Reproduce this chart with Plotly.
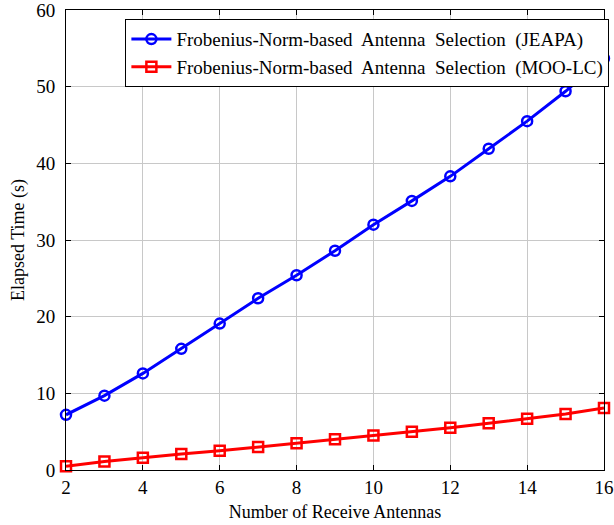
import plotly.graph_objects as go

antennas = [2, 3, 4, 5, 6, 7, 8, 9, 10, 11, 12, 13, 14, 15, 16]
jeapa = [7.2, 9.7, 12.6, 15.8, 19.1, 22.4, 25.4, 28.6, 32.0, 35.1, 38.3, 41.9, 45.5, 49.4, 53.7]
moolc = [0.5, 1.1, 1.6, 2.1, 2.5, 3.0, 3.5, 4.0, 4.5, 5.0, 5.5, 6.1, 6.7, 7.3, 8.1]
x_ticks = [2, 4, 6, 8, 10, 12, 14, 16]
y_ticks = [0, 10, 20, 30, 40, 50, 60]
names = ["Frobenius-Norm-based Antenna Selection (JEAPA)",
         "Frobenius-Norm-based Antenna Selection (MOO-LC)"]

FONT = "Liberation Serif, Times New Roman, serif"


def wide(s):
    return s.replace(" ", "\u00a0 ")


fig = go.Figure()
fig.add_trace(go.Scatter(
    x=antennas, y=jeapa, mode="lines+markers",
    name=wide(names[0]),
    line=dict(color="#0000ff", width=3),
    marker=dict(symbol="circle-open", size=10, color="#0000ff", line=dict(width=2.5)),
    cliponaxis=False,
))
fig.add_trace(go.Scatter(
    x=antennas, y=moolc, mode="lines+markers",
    name=wide(names[1]),
    line=dict(color="#ff0000", width=3),
    marker=dict(symbol="square-open", size=10, color="#ff0000", line=dict(width=2.5)),
    cliponaxis=False,
))

axis_common = dict(
    showline=True, linecolor="black", linewidth=1, mirror="allticks",
    ticks="inside", ticklen=5, tickcolor="black",
    showgrid=True, gridcolor="#c8c8c8", gridwidth=1,
    zeroline=False, automargin=False, ticklabeloverflow="allow",
    tickfont=dict(family=FONT, size=19, color="black"),
)

fig.update_layout(
    width=614, height=525,
    margin=dict(l=66, r=10, t=10, b=55, autoexpand=False),
    plot_bgcolor="white", paper_bgcolor="white",
    font=dict(family=FONT, color="black"),
    xaxis=dict(range=[2, 16], tickvals=x_ticks,
               title=dict(text="Number of Receive Antennas", font=dict(family=FONT, size=18), standoff=8),
               **axis_common),
    yaxis=dict(range=[0, 60], tickvals=y_ticks, ticklabelstandoff=6,
               title=dict(text="Elapsed Time (s)", font=dict(family=FONT, size=18), standoff=6),
               **axis_common),
    legend=dict(x=1.01, y=0.98, xanchor="right", yanchor="top",
                bgcolor="white", bordercolor="black", borderwidth=1,
                font=dict(family=FONT, size=19), tracegroupgap=0, itemwidth=40),
    showlegend=True,
)

fig.write_html("out.html")
